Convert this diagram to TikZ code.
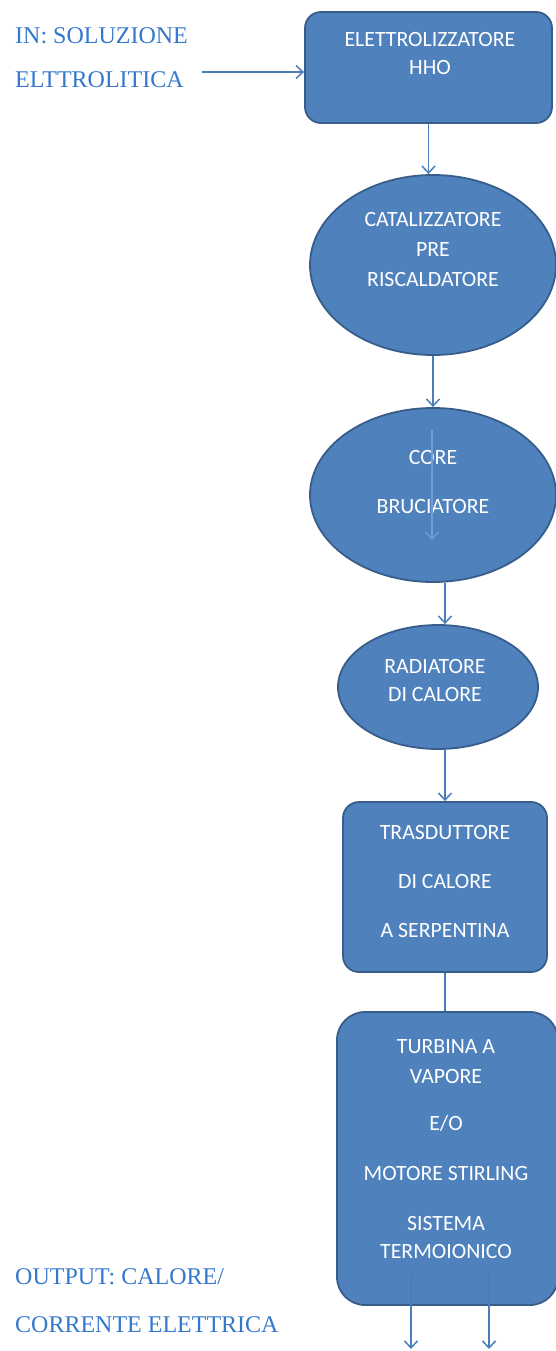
\documentclass[tikz,border=0pt]{standalone}
\usepackage{fontspec}
\setmainfont{Liberation Serif}
\newfontfamily\boxfont{Carlito}
\usetikzlibrary{positioning,arrows.meta,shapes.geometric}
\definecolor{boxfill}{RGB}{79,129,189}
\definecolor{boxline}{RGB}{56,93,138}
\definecolor{flowcol}{RGB}{74,126,187}
\definecolor{straycol}{RGB}{112,156,210}
\definecolor{sidecol}{RGB}{52,120,205}
\tikzset{
  blk/.style={draw=boxline,fill=boxfill,line width=1.8pt,rounded corners=16pt,inner sep=0pt},
  ell/.style={ellipse,draw=boxline,fill=boxfill,line width=1.8pt,inner sep=0pt},
  lbl/.style={text=white,align=center,inner sep=0pt,font=\boxfont\fontsize{21.8}{28}\selectfont},
  side/.style={text=sidecol,align=left,anchor=west,inner sep=0pt,font=\fontsize{24}{44}\selectfont},
  flow/.style={draw=flowcol,line width=1.5pt,-{Straight Barb[length=7pt,width=13pt]}},
}
\begin{document}
\begin{tikzpicture}[x=1pt,y=-1pt]
  \useasboundingbox (0,0) rectangle (556,1351);
  % blocks, top to bottom
  \node[blk,minimum width=247pt,minimum height=111pt] (elet) at (428.5,67.5) {};
  \node[ell,minimum width=246pt,minimum height=180pt] (cat) at (433,265) {};
  \node[ell,minimum width=246pt,minimum height=174pt] (core) at (433,495) {};
  \node[ell,minimum width=200pt,minimum height=124pt] (rad) at (438,687) {};
  \node[blk,minimum width=204pt,minimum height=170pt] (tras) at (445,887) {};
  \node[blk,minimum width=221pt,minimum height=293pt,rounded corners=28pt] (turb) at (447.5,1158.5) {};
  % block texts
  \node[lbl] (eletT) at (430,54) {ELETTROLIZZATORE\\HHO};
  \node[lbl] (catT) at (433,250) {CATALIZZATORE\\[2pt]PRE\\[2pt]RISCALDATORE};
  \node[lbl] (coreT) at (433,482) {CORE\\[21pt]BRUCIATORE};
  \node[lbl] (radT) at (435,680) {RADIATORE\\DI CALORE};
  \node[lbl] (trasT) at (445,881) {TRASDUTTORE\\[21pt]DI CALORE\\[21pt]A SERPENTINA};
  \node[lbl] (turbT) at (446,1149.5) {TURBINA A\\[2pt]VAPORE\\[19pt]E/O\\[22pt]MOTORE STIRLING\\[22pt]SISTEMA\\TERMOIONICO};
  % input and output
  \node[side] (inT) at (15,58) {IN: SOLUZIONE\\ELTTROLITICA};
  \node[side,font=\fontsize{24}{48}\selectfont] (outT) at (15,1301) {OUTPUT: CALORE/\\CORRENTE ELETTRICA};
  % connectors
  \coordinate (inA) at (202,72);
  \draw[flow] (inA) -- (inA -| elet.west);
  \draw[flow] (elet.south) -- (elet.south |- cat.north);
  \draw[flow] (cat.south) -- (core.north);
  \draw[flow] (core.south -| tras.north) -- (rad.north -| tras.north);
  \draw[flow] (rad.south -| tras.north) -- (tras.north);
  \draw[draw=flowcol,line width=1.5pt] (tras.south) -- (tras.south |- turb.north);
  \coordinate (strayA) at (432,430); \coordinate (strayB) at (432,540);
  \draw[flow,draw=straycol,line width=1.2pt] (strayA) -- (strayB);
  \coordinate (outA) at (411,1273); \coordinate (outAe) at (411,1349);
  \coordinate (outB) at (489,1273); \coordinate (outBe) at (489,1349);
  \draw[flow] (outA) -- (outAe);
  \draw[flow] (outB) -- (outBe);
\end{tikzpicture}
\end{document}
